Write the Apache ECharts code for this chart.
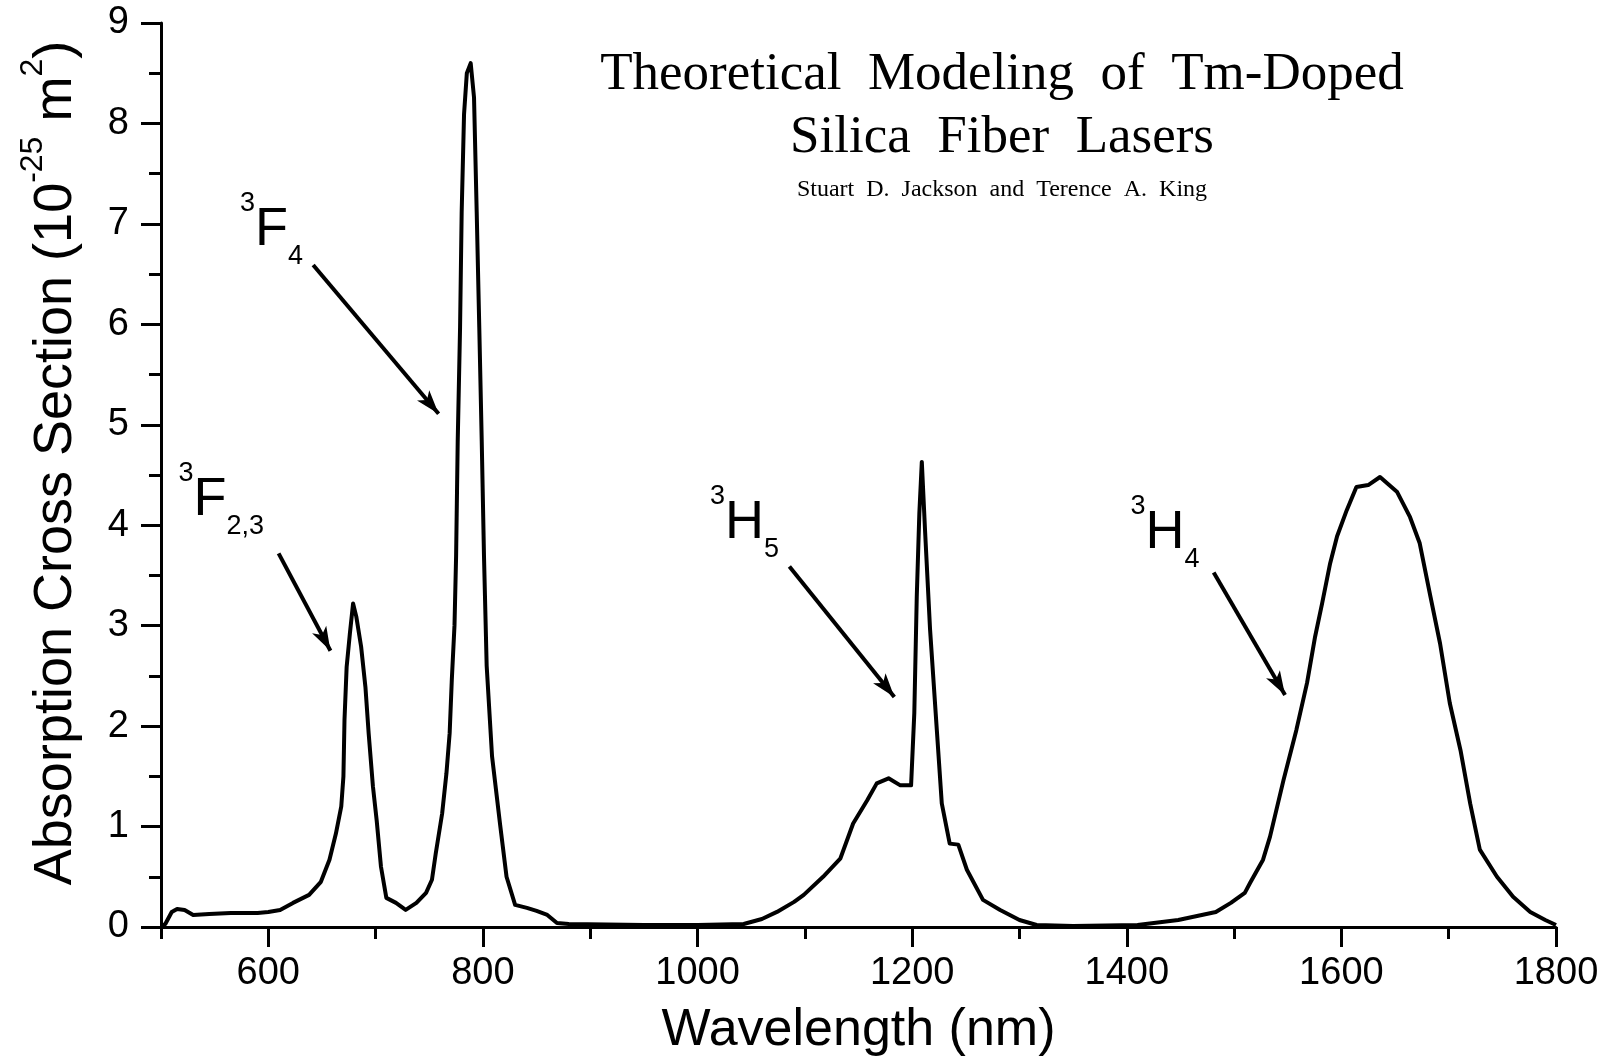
<!DOCTYPE html>
<html>
<head>
<meta charset="utf-8">
<script src="https://cdn.jsdelivr.net/npm/echarts@6/dist/echarts.min.js"></script>
<style>
  html, body { margin: 0; padding: 0; background: #fff; }
  #chart { width: 1619px; height: 1057px; }
</style>
</head>
<body>
<div id="chart"></div>
<script>
// ---- data ----
const wavelength = [
  500, 504, 510, 515, 522, 530, 545, 565, 590, 600,
  611, 623, 638, 649, 657, 663, 668, 670, 671, 673,
  676, 679, 682, 686.5, 690.5, 693.5, 697.5, 701, 705, 710,
  719, 728, 738, 747, 752.5, 756, 762, 766, 769, 771,
  773.5, 775, 776.5, 778.7, 780.2, 782.4, 785, 788.6, 791.7, 794.2,
  796.6, 798.9, 801, 803.5, 808.5, 816, 822, 830, 841, 850,
  860, 869, 880, 950, 1000, 1043, 1060, 1074, 1090, 1099,
  1117, 1133, 1145, 1158, 1167, 1178, 1189, 1199, 1202, 1204.3,
  1206.7, 1209, 1212, 1216.7, 1223, 1227.6, 1235, 1243, 1251, 1266,
  1282, 1300, 1316, 1350, 1410, 1448, 1483, 1497, 1510, 1515,
  1527, 1533.5, 1546, 1558, 1568, 1575.5, 1582, 1589.5, 1596, 1605,
  1614, 1625, 1636, 1652, 1664, 1673, 1683, 1692, 1701, 1711,
  1720, 1729, 1745, 1760, 1776, 1790, 1800
];
const absorption = [
  0.00, 0.03, 0.15, 0.18, 0.17, 0.12, 0.13, 0.14, 0.14, 0.15,
  0.17, 0.24, 0.32, 0.45, 0.67, 0.93, 1.20, 1.50, 2.06, 2.59,
  2.92, 3.22, 3.09, 2.79, 2.39, 1.93, 1.40, 1.06, 0.60, 0.29,
  0.24, 0.17, 0.24, 0.34, 0.47, 0.73, 1.13, 1.53, 1.93, 2.46,
  3.00, 3.69, 4.83, 5.97, 7.12, 8.09, 8.50, 8.60, 8.26, 7.12,
  5.97, 4.83, 3.69, 2.60, 1.70, 1.02, 0.50, 0.22, 0.19, 0.16,
  0.12, 0.04, 0.03, 0.02, 0.02, 0.03, 0.08, 0.15, 0.25, 0.32,
  0.50, 0.68, 1.03, 1.26, 1.43, 1.48, 1.41, 1.41, 2.13, 3.29,
  4.12, 4.63, 3.95, 2.96, 1.96, 1.23, 0.83, 0.82, 0.57, 0.27,
  0.17, 0.07, 0.02, 0.01, 0.02, 0.07, 0.15, 0.24, 0.34, 0.44,
  0.67, 0.90, 1.46, 1.96, 2.43, 2.89, 3.22, 3.62, 3.89, 4.15,
  4.38, 4.40, 4.48, 4.33, 4.08, 3.82, 3.29, 2.82, 2.23, 1.76,
  1.23, 0.77, 0.50, 0.30, 0.15, 0.07, 0.02
];
const xMajorTicks = [600, 800, 1000, 1200, 1400, 1600, 1800];
const xMinorTicks = [500, 700, 900, 1100, 1300, 1500, 1700];

// transition labels: superscript, main letter, subscript, anchor (nm, value)
const annoSup  = ['3', '3', '3', '3'];
const annoMain = ['F', 'F', 'H', 'H'];
const annoSub  = ['4', '2,3', '5', '4'];
const annoX    = [573.6, 516.4, 1011.6, 1403.5];
const annoY    = [6.94, 4.25, 4.02, 3.92];
// arrows (nm, value)
const arrowFromX = [641.8, 609.6, 1085.6, 1481];
const arrowFromY = [6.59, 3.72, 3.59, 3.53];
const arrowToX   = [758.7, 657.9, 1183.4, 1547.5];
const arrowToY   = [5.11, 2.75, 2.29, 2.31];

const titleLines = ['Theoretical  Modeling  of  Tm-Doped', 'Silica  Fiber  Lasers'];
const authors = 'Stuart  D.  Jackson  and  Terence  A.  King';

// ---- chart ----
const SANS = '"Liberation Sans", Arial, Helvetica, sans-serif';
const SERIF = '"Liberation Serif", "Times New Roman", serif';
const chart = echarts.init(document.getElementById('chart'), null, { renderer: 'canvas' });

const curve = wavelength.map((w, i) => [w, absorption[i]]);
const annoData = annoX.map((x, i) => ({ value: [x, annoY[i]], idx: i }));
const arrowData = arrowFromX.map((x, i) => [
  { coord: [x, arrowFromY[i]] },
  { coord: [arrowToX[i], arrowToY[i]] }
]);

const option = {
  backgroundColor: '#ffffff',
  animation: false,
  grid: { left: 161, right: 63, top: 23, bottom: 130, containLabel: false, outerBoundsMode: 'none' },
  xAxis: [
    {
      type: 'value', min: 500, max: 1800, position: 'bottom',
      name: 'Wavelength (nm)', nameLocation: 'middle', nameGap: 78,
      nameTextStyle: { fontFamily: SANS, fontSize: 52, color: '#000' },
      axisLine: { show: true, onZero: false, lineStyle: { color: '#000', width: 3 } },
      axisTick: { show: true, inside: false, length: 20, customValues: xMajorTicks,
                  lineStyle: { color: '#000', width: 3 } },
      axisLabel: { show: true, customValues: xMajorTicks, margin: 28,
                   formatter: v => String(v),
                   fontFamily: SANS, fontSize: 38, color: '#000' },
      splitLine: { show: false }
    },
    {
      type: 'value', min: 500, max: 1800, position: 'bottom',
      axisLine: { show: false },
      axisTick: { show: true, inside: false, length: 12, customValues: xMinorTicks,
                  lineStyle: { color: '#000', width: 3 } },
      axisLabel: { show: false },
      splitLine: { show: false }
    }
  ],
  yAxis: {
    type: 'value', min: 0, max: 9, interval: 1,
    name: '{n|Absorption Cross Section (10}{s|-25}{n| m}{s|2}{n|)}',
    nameLocation: 'middle', nameGap: 66, nameRotate: 90,
    nameTextStyle: {
      padding: [0, 0, 0, 24],
      color: '#000',
      rich: {
        n: { fontFamily: SANS, fontSize: 54, lineHeight: 78, verticalAlign: 'middle', color: '#000' },
        s: { fontFamily: SANS, fontSize: 32, lineHeight: 32, verticalAlign: 'top', color: '#000' }
      }
    },
    axisLine: { show: true, lineStyle: { color: '#000', width: 3 } },
    axisTick: { show: true, inside: false, length: 20, lineStyle: { color: '#000', width: 3 } },
    minorTick: { show: true, splitNumber: 2, length: 12, lineStyle: { color: '#000', width: 3 } },
    axisLabel: { margin: 32, fontFamily: SANS, fontSize: 38, color: '#000' },
    splitLine: { show: false },
    minorSplitLine: { show: false }
  },
  graphic: [
    { type: 'text', x: 1002, y: 75, silent: true,
      style: { text: titleLines[0], fontFamily: SERIF, fontSize: 53, fill: '#000', align: 'center', verticalAlign: 'middle' } },
    { type: 'text', x: 1002, y: 138, silent: true,
      style: { text: titleLines[1], fontFamily: SERIF, fontSize: 53, fill: '#000', align: 'center', verticalAlign: 'middle' } },
    { type: 'text', x: 1002, y: 190, silent: true,
      style: { text: authors, fontFamily: SERIF, fontSize: 24, fill: '#000', align: 'center', verticalAlign: 'middle' } }
  ],
  series: [
    {
      name: 'Absorption', type: 'line', xAxisIndex: 0, data: curve,
      showSymbol: false, symbol: 'none', smooth: false,
      lineStyle: { color: '#000', width: 4, join: 'round' },
      silent: true,
      markLine: {
        silent: true, animation: false,
        symbol: ['none', 'arrow'], symbolSize: [12, 24],
        label: { show: false },
        lineStyle: { color: '#000', width: 4, type: 'solid' },
        emphasis: { disabled: true },
        data: arrowData
      }
    },
    {
      name: 'Transitions', type: 'scatter', xAxisIndex: 0, data: annoData,
      symbolSize: 0, silent: true, z: 5,
      itemStyle: { color: '#000', opacity: 1 },
      label: {
        show: true, position: 'right', distance: 0, align: 'left', verticalAlign: 'middle',
        color: '#000', opacity: 1, textBorderWidth: 0,
        formatter: p => `{s|${annoSup[p.data.idx]}}{m|${annoMain[p.data.idx]}}{b|${annoSub[p.data.idx]}}`,
        rich: {
          s: { fontFamily: SANS, fontSize: 27, lineHeight: 27, verticalAlign: 'top', color: '#000' },
          m: { fontFamily: SANS, fontSize: 54, lineHeight: 80, verticalAlign: 'middle', color: '#000' },
          b: { fontFamily: SANS, fontSize: 27, lineHeight: 27, verticalAlign: 'bottom', color: '#000' }
        }
      }
    }
  ]
};
chart.setOption(option);
</script>
</body>
</html>
